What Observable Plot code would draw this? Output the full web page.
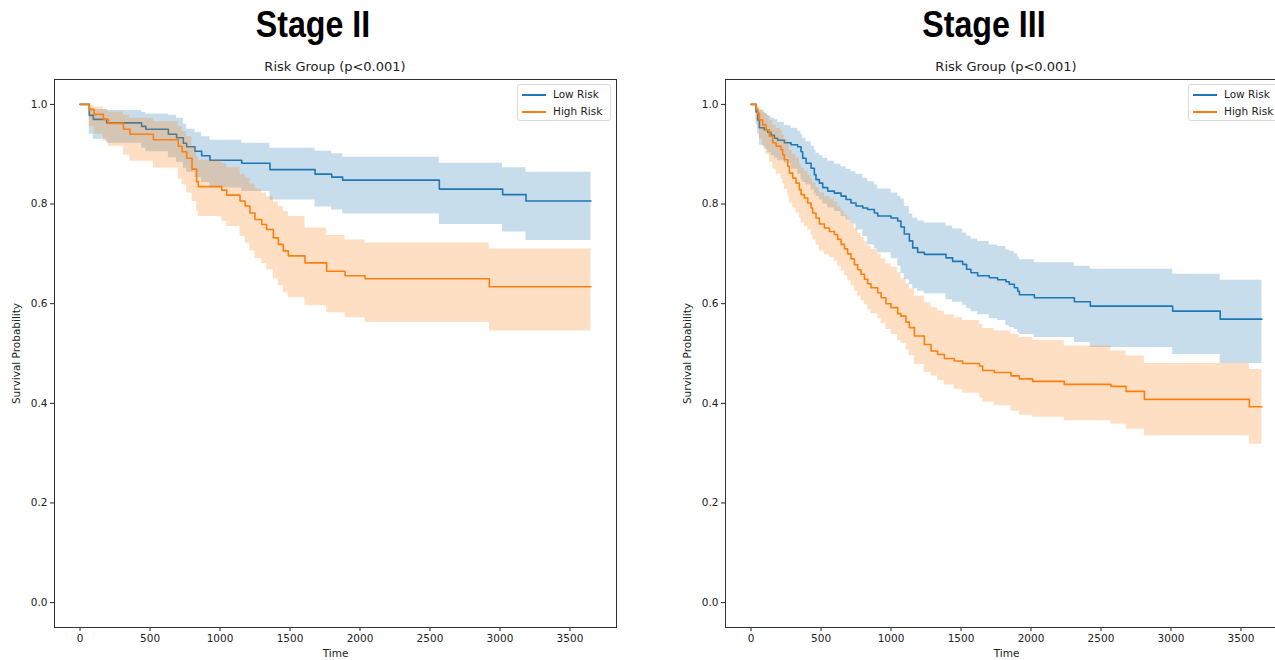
<!DOCTYPE html>
<html>
<head>
<meta charset="utf-8">
<script src="https://cdn.jsdelivr.net/npm/d3@7"></script>
<script src="https://cdn.jsdelivr.net/npm/@observablehq/plot@0.6"></script>
<style>
  html, body { margin:0; padding:0; background:#fff; width:1275px; height:660px; overflow:hidden; }
  #root { position:relative; width:1275px; height:660px; overflow:hidden; }
  .stage { position:absolute; top:4px; width:300px; text-align:center; font-family:"Liberation Sans", Arial, sans-serif; font-weight:bold; font-size:37px; color:#000; transform:scaleX(0.87); transform-origin:center; white-space:nowrap; }
  .sub { position:absolute; top:59px; width:300px; text-align:center; font-family:"DejaVu Sans", sans-serif; font-size:13px; color:#222; white-space:nowrap; }
  .plot { position:absolute; top:60px; }
  .legend { position:absolute; top:84px; width:94px; height:37px; border:1px solid #d9d9d9; border-radius:3px; background:rgba(255,255,255,0.85); font-family:"DejaVu Sans", sans-serif; font-size:10.5px; color:#222; box-sizing:border-box; }
  .legend .row { position:absolute; left:4px; height:12px; white-space:nowrap; }
  .legend .sw { position:absolute; left:0; top:5px; width:24px; height:2px; }
  .legend .lab { position:absolute; left:31px; top:-1px; }
</style>
</head>
<body>
<div id="root"></div>
<script>
// ---------------- DATA ----------------
const panelTitles = ["Stage II", "Stage III"];
const subtitle = "Risk Group (p<0.001)";
const seriesNames = ["Low Risk", "High Risk"];
const followUpEnd = 3650;
const xTicks = [0, 500, 1000, 1500, 2000, 2500, 3000, 3500];
const yTicks = [0.0, 0.2, 0.4, 0.6, 0.8, 1.0];

// Stage II - Low Risk
const s2LowTime  = [0, 66, 95, 190, 440, 470, 631, 690, 738, 762, 821, 869, 928, 1155, 1357, 1679, 1798, 1876, 2567, 3019, 3186];
const s2LowSurv  = [1.0, 0.978, 0.970, 0.963, 0.956, 0.950, 0.940, 0.933, 0.922, 0.915, 0.906, 0.897, 0.888, 0.882, 0.869, 0.860, 0.854, 0.848, 0.830, 0.819, 0.806];
const s2LowUpper = [1.0, 0.993, 0.990, 0.988, 0.984, 0.981, 0.978, 0.972, 0.960, 0.950, 0.943, 0.935, 0.928, 0.922, 0.912, 0.906, 0.901, 0.894, 0.882, 0.873, 0.864];
const s2LowLower = [1.0, 0.940, 0.930, 0.922, 0.912, 0.905, 0.893, 0.884, 0.872, 0.864, 0.853, 0.843, 0.832, 0.825, 0.808, 0.794, 0.788, 0.780, 0.759, 0.744, 0.727];

// Stage II - High Risk
const s2HighTime  = [0, 66, 100, 167, 202, 310, 357, 524, 702, 730, 762, 800, 833, 845, 1012, 1048, 1143, 1179, 1214, 1250, 1298, 1333, 1381, 1417, 1452, 1488, 1607, 1762, 1893, 2036, 2924];
const s2HighSurv  = [1.0, 0.990, 0.980, 0.970, 0.962, 0.950, 0.940, 0.929, 0.916, 0.905, 0.892, 0.870, 0.845, 0.835, 0.828, 0.818, 0.806, 0.796, 0.782, 0.769, 0.759, 0.749, 0.732, 0.719, 0.706, 0.696, 0.682, 0.665, 0.656, 0.650, 0.634];
const s2HighUpper = [1.0, 0.998, 0.995, 0.990, 0.985, 0.978, 0.972, 0.965, 0.955, 0.945, 0.935, 0.915, 0.895, 0.888, 0.882, 0.873, 0.860, 0.852, 0.840, 0.830, 0.822, 0.814, 0.804, 0.795, 0.785, 0.775, 0.752, 0.737, 0.728, 0.722, 0.710];
const s2HighLower = [1.0, 0.955, 0.940, 0.926, 0.916, 0.898, 0.886, 0.872, 0.850, 0.838, 0.822, 0.805, 0.785, 0.775, 0.765, 0.755, 0.735, 0.722, 0.706, 0.690, 0.680, 0.668, 0.650, 0.636, 0.622, 0.612, 0.596, 0.582, 0.572, 0.562, 0.545];

// Stage III - Low Risk
const s3LowTime  = [0, 36, 48, 60, 95, 119, 143, 167, 190, 238, 286, 333, 357, 369, 393, 429, 452, 464, 488, 512, 548, 595, 643, 679, 714, 750, 798, 833, 881, 905, 1000, 1048, 1071, 1095, 1131, 1155, 1190, 1238, 1393, 1440, 1512, 1540, 1571, 1619, 1702, 1762, 1821, 1845, 1881, 1905, 1917, 2024, 2310, 2424, 3012, 3352];
const s3LowSurv  = [1.0, 0.985, 0.969, 0.953, 0.949, 0.944, 0.938, 0.932, 0.928, 0.923, 0.919, 0.915, 0.905, 0.892, 0.882, 0.872, 0.859, 0.849, 0.842, 0.833, 0.826, 0.822, 0.816, 0.809, 0.802, 0.796, 0.792, 0.789, 0.782, 0.776, 0.772, 0.766, 0.754, 0.740, 0.726, 0.712, 0.703, 0.699, 0.692, 0.685, 0.679, 0.669, 0.662, 0.656, 0.652, 0.648, 0.644, 0.639, 0.632, 0.625, 0.618, 0.612, 0.604, 0.595, 0.585, 0.569];
const s3LowUpper = [1.0, 0.998, 0.993, 0.988, 0.982, 0.976, 0.972, 0.969, 0.964, 0.957, 0.952, 0.946, 0.939, 0.932, 0.925, 0.916, 0.908, 0.902, 0.897, 0.892, 0.886, 0.880, 0.875, 0.870, 0.865, 0.860, 0.852, 0.845, 0.838, 0.830, 0.822, 0.815, 0.810, 0.795, 0.780, 0.772, 0.766, 0.762, 0.756, 0.750, 0.742, 0.736, 0.730, 0.725, 0.718, 0.715, 0.708, 0.705, 0.700, 0.693, 0.688, 0.682, 0.675, 0.669, 0.659, 0.647];
const s3LowLower = [1.0, 0.960, 0.940, 0.918, 0.910, 0.903, 0.897, 0.892, 0.887, 0.882, 0.870, 0.860, 0.849, 0.843, 0.838, 0.828, 0.820, 0.815, 0.808, 0.800, 0.792, 0.785, 0.775, 0.768, 0.760, 0.748, 0.735, 0.718, 0.710, 0.702, 0.690, 0.675, 0.660, 0.648, 0.638, 0.630, 0.625, 0.620, 0.608, 0.603, 0.597, 0.590, 0.584, 0.578, 0.570, 0.566, 0.556, 0.552, 0.548, 0.542, 0.538, 0.532, 0.522, 0.512, 0.498, 0.480];

// Stage III - High Risk
const s3HighTime  = [0, 36, 48, 60, 83, 107, 131, 155, 179, 214, 226, 238, 262, 274, 298, 321, 345, 357, 381, 405, 429, 440, 464, 488, 524, 560, 595, 619, 643, 667, 690, 714, 738, 762, 786, 810, 833, 857, 905, 929, 964, 1000, 1048, 1071, 1107, 1131, 1167, 1238, 1286, 1333, 1381, 1452, 1512, 1631, 1655, 1738, 1857, 1917, 2012, 2238, 2571, 2679, 2810, 3560];
const s3HighSurv  = [1.0, 0.990, 0.982, 0.969, 0.959, 0.949, 0.936, 0.923, 0.916, 0.909, 0.899, 0.889, 0.876, 0.862, 0.852, 0.842, 0.829, 0.819, 0.812, 0.802, 0.792, 0.782, 0.772, 0.760, 0.752, 0.745, 0.739, 0.729, 0.719, 0.710, 0.700, 0.690, 0.678, 0.668, 0.659, 0.649, 0.640, 0.632, 0.622, 0.612, 0.600, 0.592, 0.580, 0.575, 0.563, 0.552, 0.535, 0.518, 0.505, 0.498, 0.490, 0.485, 0.480, 0.475, 0.466, 0.462, 0.455, 0.449, 0.444, 0.438, 0.434, 0.424, 0.408, 0.393];
const s3HighUpper = [1.0, 0.998, 0.995, 0.990, 0.984, 0.978, 0.968, 0.958, 0.952, 0.946, 0.938, 0.930, 0.920, 0.908, 0.900, 0.892, 0.880, 0.872, 0.866, 0.858, 0.850, 0.842, 0.833, 0.822, 0.815, 0.810, 0.804, 0.795, 0.786, 0.778, 0.770, 0.760, 0.750, 0.741, 0.733, 0.724, 0.716, 0.709, 0.700, 0.690, 0.680, 0.673, 0.662, 0.650, 0.640, 0.630, 0.615, 0.602, 0.592, 0.585, 0.578, 0.572, 0.566, 0.558, 0.550, 0.545, 0.538, 0.532, 0.526, 0.515, 0.505, 0.495, 0.480, 0.468];
const s3HighLower = [1.0, 0.965, 0.950, 0.930, 0.915, 0.900, 0.884, 0.870, 0.860, 0.850, 0.840, 0.829, 0.815, 0.802, 0.792, 0.782, 0.772, 0.762, 0.755, 0.748, 0.738, 0.728, 0.718, 0.706, 0.698, 0.692, 0.685, 0.675, 0.665, 0.656, 0.646, 0.636, 0.625, 0.615, 0.606, 0.598, 0.588, 0.580, 0.570, 0.560, 0.548, 0.538, 0.526, 0.520, 0.507, 0.496, 0.478, 0.462, 0.455, 0.446, 0.437, 0.428, 0.420, 0.410, 0.402, 0.395, 0.384, 0.376, 0.372, 0.365, 0.358, 0.348, 0.335, 0.318];

const colors = ["#1f77b4", "#ff7f0e"];

// ---------------- BUILD ----------------
function table(T, S, U, L) {
  const rows = T.map((t, i) => ({t, s: S[i], hi: U[i], lo: L[i]}));
  const last = rows[rows.length - 1];
  rows.push({t: followUpEnd, s: last.s, hi: last.hi, lo: last.lo});
  return rows;
}

const panels = [
  {title: panelTitles[0], left: 0,
   low: table(s2LowTime, s2LowSurv, s2LowUpper, s2LowLower),
   high: table(s2HighTime, s2HighSurv, s2HighUpper, s2HighLower)},
  {title: panelTitles[1], left: 671,
   low: table(s3LowTime, s3LowSurv, s3LowUpper, s3LowLower),
   high: table(s3HighTime, s3HighSurv, s3HighUpper, s3HighLower)}
];

const root = document.getElementById("root");
const W = 640, H = 600, mL = 54, mR = 24, mT = 19, mB = 33;

panels.forEach((p) => {
  const chart = Plot.plot({
    width: W, height: H,
    marginLeft: mL, marginRight: mR, marginTop: mT, marginBottom: mB,
    style: {fontFamily: "DejaVu Sans, sans-serif", fontSize: "10.5px", color: "#222", background: "transparent"},
    x: {domain: [-182.5, 3832.5], ticks: xTicks, tickFormat: d => String(d), label: "Time",
        labelAnchor: "center", labelArrow: "none", labelOffset: 29, tickSize: 4, tickPadding: 3},
    y: {domain: [-0.05, 1.05], ticks: yTicks, tickFormat: d => d.toFixed(1), label: "Survival Probability",
        labelAnchor: "center", labelArrow: "none", labelOffset: 42, tickSize: 4, tickPadding: 3},
    marks: [
      Plot.areaY(p.low, {x: "t", y1: "lo", y2: "hi", curve: "step-after", fill: colors[0], fillOpacity: 0.25}),
      Plot.line(p.low, {x: "t", y: "s", curve: "step-after", stroke: colors[0], strokeWidth: 1.6}),
      Plot.areaY(p.high, {x: "t", y1: "lo", y2: "hi", curve: "step-after", fill: colors[1], fillOpacity: 0.25}),
      Plot.line(p.high, {x: "t", y: "s", curve: "step-after", stroke: colors[1], strokeWidth: 1.6}),
      Plot.frame({stroke: "#333", strokeWidth: 1})
    ]
  });
  chart.classList.add("plot");
  chart.style.left = p.left + "px";
  root.appendChild(chart);

  const frameCenter = p.left + mL + (W - mL - mR) / 2;

  const st = document.createElement("div");
  st.className = "stage";
  st.textContent = p.title;
  st.style.left = (frameCenter - 22 - 150) + "px";
  root.appendChild(st);

  const sub = document.createElement("div");
  sub.className = "sub";
  sub.textContent = subtitle;
  sub.style.left = (frameCenter - 150) + "px";
  root.appendChild(sub);

  const lg = document.createElement("div");
  lg.className = "legend";
  lg.style.left = (p.left + 517) + "px";
  seriesNames.forEach((name, i) => {
    const row = document.createElement("div");
    row.className = "row";
    row.style.top = (4 + i * 17) + "px";
    const sw = document.createElement("span");
    sw.className = "sw";
    sw.style.background = colors[i];
    const lab = document.createElement("span");
    lab.className = "lab";
    lab.textContent = name;
    row.appendChild(sw); row.appendChild(lab);
    lg.appendChild(row);
  });
  root.appendChild(lg);
});
</script>
</body>
</html>
